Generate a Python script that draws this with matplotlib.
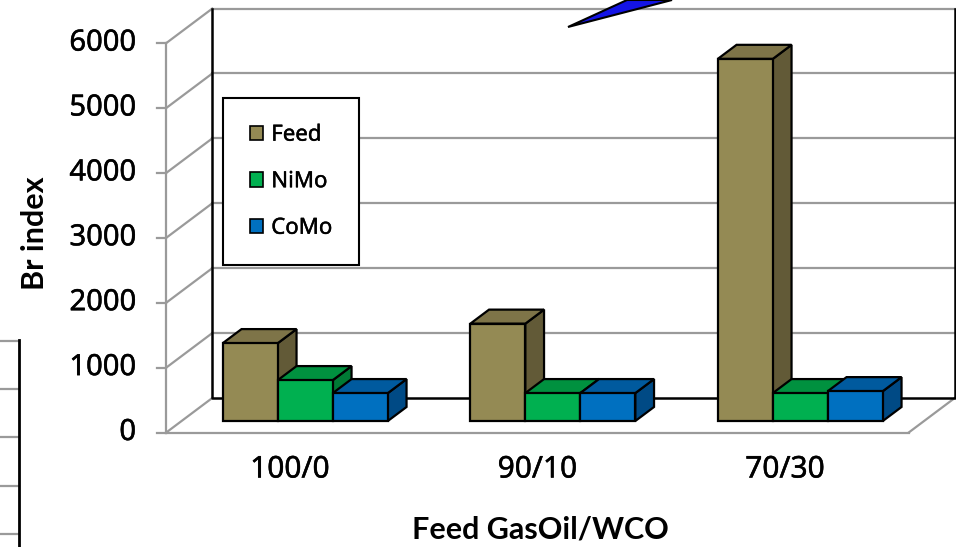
import matplotlib
matplotlib.use('Agg')
import matplotlib.pyplot as plt
import matplotlib.patheffects as pe
from matplotlib.patches import Polygon, Patch
import numpy as np

plt.rcParams['font.family'] = ['Noto Sans', 'DejaVu Sans']
bold_font = ['Lato', 'DejaVu Sans']
heavy = [pe.withStroke(linewidth=0.35, foreground='black')]

# data
categories = ['100/0', '90/10', '70/30']
series = ['Feed', 'NiMo', 'CoMo']
feed = [1200, 1500, 5580]
nimo = [630, 430, 430]
como = [430, 430, 460]
yticks = [0, 1000, 2000, 3000, 4000, 5000, 6000]

# colours: front, top, side
face_cols = {'Feed': ('#948A54', '#7E7448', '#625A37'),
             'NiMo': ('#00B050', '#00913F', '#007A35'),
             'CoMo': ('#0070C0', '#005A9E', '#004A85')}
grid_col = '#9A9A9A'

# layout of the pseudo 3d box (pixels of the 956x547 picture)
W, H = 956, 547
X0, SX = 290.0, 247.5      # px of category 0 on the front plane, px per category
Y0, SY = 432.5, 0.0649     # px of value 0 on the front plane, px per unit
DX = 46.0 / SX             # full depth shift in category units
DV = 34.5 / SY             # full depth shift in value units
t0, t1 = 0.333, 0.74       # depth span of the bars
bw = 55.0 / SX             # bar width

fig = plt.figure(figsize=(W / 100, H / 100), dpi=100)
ax = fig.add_axes([0, 0, 1, 1])
ax.set_xlim(-X0 / SX, (W - X0) / SX)
ax.set_ylim((Y0 - H) / SY, Y0 / SY)
ax.axis('off')

xl, xr = -0.5, len(categories) - 0.5
vmax = yticks[-1]

def at(x, v, t):
    return (x + t * DX, v + t * DV)

# side wall / floor diagonals
for v in yticks:
    ax.plot(*zip(at(xl, v, 0), at(xl, v, 1)), color=grid_col, lw=1.6, zorder=1)
    ax.plot(*zip(at(xl - 9 / SX, v, 0), at(xl, v, 0)), color=grid_col, lw=1.6, zorder=1)
ax.plot(*zip(at(xr, 0, 0), at(xr, 0, 1)), color=grid_col, lw=1.6, zorder=1)
ax.plot(*zip(at(xl, 0, 0), at(xr, 0, 0)), color=grid_col, lw=1.6, zorder=1)
ax.plot(*zip(at(xl, 0, 0), at(xl, vmax, 0)), color=grid_col, lw=1.6, zorder=1)
# back wall gridlines
for v in yticks[1:]:
    ax.plot(*zip(at(xl, v, 1), at(xr, v, 1)), color=grid_col, lw=1.6, zorder=1)
# back wall black frame
ax.plot(*zip(at(xl, vmax, 1), at(xl, 0, 1), at(xr, 0, 1), at(xr, vmax, 1)),
        color='black', lw=1.8, zorder=1.5)

# bars
for i in range(len(categories)):
    for j, (name, vals) in enumerate(zip(series, [feed, nimo, como])):
        v = vals[i]
        a = i - 1.5 * bw + j * bw
        b = a + bw
        fc, tc, sc = face_cols[name]
        z = 3 + i * 3 + j
        front = [at(a, 0, t0), at(b, 0, t0), at(b, v, t0), at(a, v, t0)]
        top = [at(a, v, t0), at(b, v, t0), at(b, v, t1), at(a, v, t1)]
        side = [at(b, 0, t0), at(b, 0, t1), at(b, v, t1), at(b, v, t0)]
        for poly, c in [(side, sc), (top, tc), (front, fc)]:
            ax.add_patch(Polygon(poly, closed=True, facecolor=c, edgecolor='black',
                                 lw=1.6, joinstyle='miter', zorder=z))

# tick labels
for v in yticks:
    ax.text((136 - X0) / SX, v, str(v), ha='right', va='center', fontsize=21,
            path_effects=heavy)
for i, c in enumerate(categories):
    ax.text(i, (Y0 - 470) / SY, c, ha='center', va='center', fontsize=21.5,
            path_effects=heavy)

fig.text(540 / W, 1 - 529 / H, 'Feed GasOil/WCO', ha='center', va='center',
         fontsize=22, fontweight='bold', family=bold_font)
fig.text(35 / W, 1 - 233 / H, 'Br index', ha='center', va='center',
         fontsize=22, fontweight='bold', rotation=90, family=bold_font)

# legend
handles = [Patch(facecolor=face_cols[s][0], edgecolor='black', lw=1.2) for s in series]
leg = ax.legend(handles, series, loc='upper left', bbox_to_anchor=(223 / W, 1 - 98 / H),
                bbox_transform=fig.transFigure, borderaxespad=0, fontsize=16,
                handlelength=0.62, handleheight=0.62, handletextpad=0.35,
                labelspacing=1.15, borderpad=1.2, fancybox=False, framealpha=1)
leg.get_frame().set_edgecolor('black')
leg.get_frame().set_linewidth(1.5)
leg.set_zorder(20)
for txt in leg.get_texts():
    txt.set_path_effects([pe.withStroke(linewidth=0.3, foreground='black')])

# pieces of the neighbouring figure panels
for yy in [341, 389, 437, 486, 534]:
    fig.add_artist(plt.Line2D([0, 19 / W], [1 - yy / H] * 2, color=grid_col, lw=1.6))
fig.add_artist(plt.Line2D([19 / W] * 2, [1 - 340 / H, 0], color='black', lw=2))
arrow = Polygon([(568 / W, 1 - 27 / H), (627 / W, 1.0), (672 / W, 1.0)], closed=True,
                facecolor='#1414E6', edgecolor='black', lw=1.5,
                transform=fig.transFigure)
fig.add_artist(arrow)

fig.savefig('out.png', dpi=100)
